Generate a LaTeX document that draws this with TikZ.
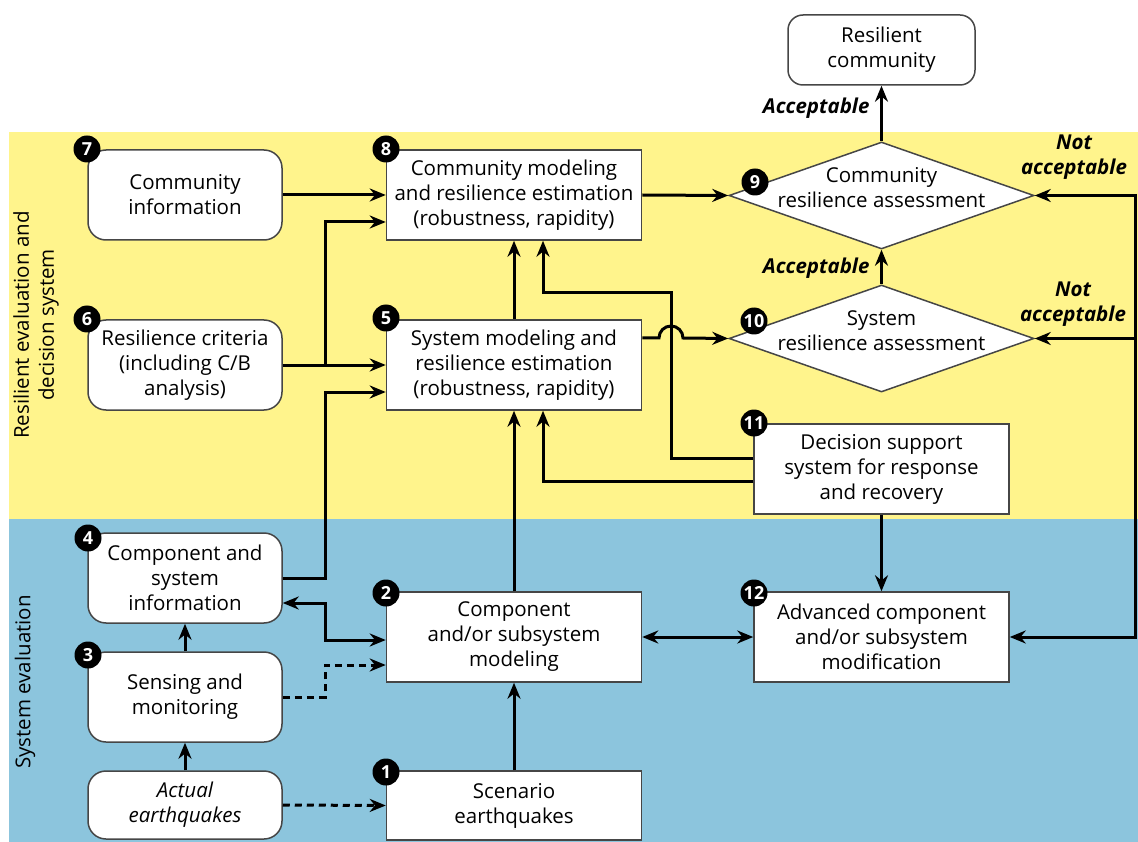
\documentclass[tikz,border=0pt]{standalone}
\usepackage{fontspec}
\setmainfont{Open Sans}
\usetikzlibrary{arrows.meta,shapes.geometric}
\definecolor{yel}{RGB}{255,244,140}
\definecolor{blu}{RGB}{140,197,221}
\definecolor{bord}{RGB}{70,70,70}
\begin{document}
\begin{tikzpicture}[x=1pt,y=-1pt,
  every node/.style={font=\fontsize{20.5}{25}\selectfont, align=center},
  rbox/.style={draw=bord, line width=1.5pt, fill=white, rounded corners=18pt, minimum width=194pt, minimum height=90pt, inner sep=0pt},
  sbox/.style={draw=bord, line width=1.5pt, fill=white, minimum width=255pt, minimum height=90pt, inner sep=0pt},
  dia/.style={draw=bord, line width=1.5pt, fill=white, diamond, minimum width=305pt, minimum height=107pt, inner sep=0pt},
  badge/.style={circle, fill=black, text=white, minimum size=27pt, inner sep=0pt, font=\fontsize{18}{18}\selectfont\bfseries},
  conn/.style={line width=3pt, -{Stealth[length=16pt,width=13pt]}},
  conn2/.style={line width=3pt, {Stealth[length=16pt,width=13pt]}-{Stealth[length=16pt,width=13pt]}},
  dconn/.style={conn, dash pattern=on 7pt off 5pt},
  lab/.style={font=\fontsize{20.5}{25}\selectfont\bfseries\itshape},
  side/.style={rotate=90, font=\fontsize{20.5}{25}\selectfont}
]
\useasboundingbox (0,0) rectangle (1138,842);
\fill[white] (0,0) rectangle (1138,842);
\fill[yel] (9,132) rectangle (1138,519);
\fill[blu] (9,519) rectangle (1138,842);

\node[side] (s1) at (36,325) {Resilient evaluation and\\decision system};
\node[side] (s2) at (25,682) {System evaluation};

% nodes
\node[rbox, minimum width=187pt, minimum height=70pt, rounded corners=15pt] (rc) at (881.5,50) {Resilient\\community};
\node[dia] (d9) at (881.5,195.5) {};
\node (t9) at (881.5,188) {Community\\resilience assessment};
\node[dia] (d10) at (881.5,338.5) {};
\node (t10) at (881.5,331) {System\\resilience assessment};

\node[rbox] (n7) at (185,195) {Community\\information};
\node[rbox] (n6) at (185,365) {Resilience criteria\\(including C/B\\analysis)};
\node[rbox] (n4) at (185,578) {Component and\\system\\information};
\node[rbox] (n3) at (185,697) {Sensing and\\monitoring};
\node[rbox, minimum height=68pt] (na) at (185,805) {\itshape Actual\\\itshape earthquakes};

\node[sbox] (n8) at (514,195) {Community modeling\\and resilience estimation\\(robustness, rapidity)};
\node[sbox] (n5) at (514,365) {System modeling and\\resilience estimation\\(robustness, rapidity)};
\node[sbox] (n2) at (514,637) {Component\\and/or subsystem\\modeling};
\node[sbox, minimum height=69pt] (n1) at (514,805.5) {Scenario\\earthquakes};
\node[sbox] (n11) at (881.5,469) {Decision support\\system for response\\and recovery};
\node[sbox] (n12) at (881.5,637) {Advanced component\\and/or subsystem\\modification};

% connectors
\draw[conn] (n7.east) -- (n8.west);
\draw[conn] (n6.east) -- (n5.west);
\draw[conn] (n6.east) -- (325,365) |- ([yshift=-27pt]n8.west);
\draw[conn] (n4.east) -- (325,578) |- ([yshift=-27pt]n5.west);
\draw[conn2] ([yshift=-25pt]n4.east) -- (325,603) |- ([yshift=-3pt]n2.west);
\draw[dconn] (n3.east) -- (325,697) |- ([yshift=-28pt]n2.west);
\draw[dconn] (na.east) -- (n1.west);
\draw[conn] (na.north) -- (n3.south);
\draw[conn] (n3.north) -- (n4.south);
\draw[conn] (n1.north) -- (n2.south);
\draw[conn] (n2.north) -- (n5.south);
\draw[conn] (n5.north) -- (n8.south);
\draw[conn] ([yshift=11pt]n11.west) -- (671,458) -- (671,293) -| ([xshift=29pt]n8.south);
\draw[conn] ([yshift=-12pt]n11.west) -| ([xshift=29pt]n5.south);
\draw[conn] ([yshift=27pt]n5.east) -- (659,338) arc[start angle=180, end angle=360, radius=12] -- (d10.west);
\draw[conn] (n8.east) -- (d9.west);
\draw[conn] (d9.north) -- (rc.south);
\draw[conn] (d10.north) -- (d9.south);
\draw[conn] (n11.south) -- (n12.north);
\draw[conn2] (n2.east) -- (n12.west);
\coordinate (lp) at (1135,637);
\draw[line width=3pt] (1135,194) -- (1135,638.5);
\draw[conn] (1135,195.5) -- (d9.east);
\draw[conn] (1135,338.5) -- (d10.east);
\draw[conn] (lp) -- (n12.east);

% labels
\node[lab, anchor=east] (a1) at (873,108) {Acceptable};
\node[lab, anchor=east] (a2) at (873,268) {Acceptable};
\node[lab] (na1) at (1074,157.5) {Not\\acceptable};
\node[lab] (na2) at (1073,304.5) {Not\\acceptable};

% badges
\node[badge] (b7) at (87,149) {7};
\node[badge] (b6) at (87,319) {6};
\node[badge] (b4) at (88,538) {4};
\node[badge] (b3) at (88,655) {3};
\node[badge] (b8) at (386,149) {8};
\node[badge] (b5) at (386,318) {5};
\node[badge] (b2) at (386,593) {2};
\node[badge] (b1) at (386,772) {1};
\node[badge] (b11) at (754,423) {11};
\node[badge] (b12) at (754,593) {12};
\node[badge] (b9) at (755,182) {9};
\node[badge] (b10) at (754,321) {10};
\end{tikzpicture}
\end{document}
